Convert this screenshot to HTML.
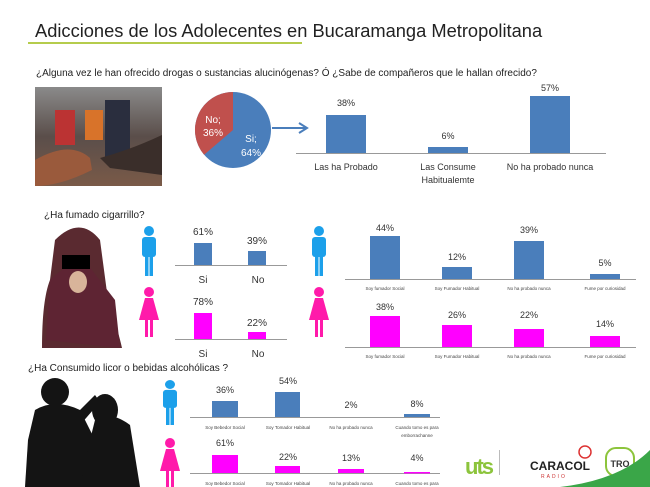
<!DOCTYPE html>
<html><head><meta charset="utf-8"><style>
html,body{margin:0;padding:0;background:#fff;}
svg{display:block;font-family:"Liberation Sans",sans-serif;}
</style></head><body>
<svg width="650" height="487" viewBox="0 0 650 487" xmlns="http://www.w3.org/2000/svg">
<defs>
<linearGradient id="ph1" x1="0" y1="0" x2="0" y2="1"><stop offset="0" stop-color="#8a8a8a"/><stop offset="0.5" stop-color="#5a4e4a"/><stop offset="1" stop-color="#7a5a48"/></linearGradient>
<g id="man"><circle cx="8" cy="5" r="5"/><rect x="1" y="11" width="14" height="20" rx="3"/><rect x="4" y="28" width="3.5" height="22"/><rect x="8.5" y="28" width="3.5" height="22"/></g>
<g id="woman"><circle cx="9" cy="5" r="5"/><path d="M5 11 H13 L19 33 H-1 Z"/><rect x="5" y="32" width="3" height="18"/><rect x="10" y="32" width="3" height="18"/></g>
</defs>
<rect width="650" height="487" fill="#fff"/>
<text x="35" y="37" font-size="18.3" fill="#222">Adicciones de los Adolecentes en Bucaramanga Metropolitana</text>
<rect x="28" y="42" width="274" height="2" fill="#b5cc4c"/>
<text x="36" y="76" font-size="10" fill="#222">¿Alguna vez le han ofrecido drogas o sustancias alucinógenas?   Ó   ¿Sabe de compañeros que  le hallan ofrecido?</text>
<!-- photo 1 -->
<rect x="35" y="87" width="127" height="99" fill="url(#ph1)"/>
<rect x="55" y="110" width="20" height="35" fill="#b33"/><rect x="85" y="110" width="18" height="30" fill="#d8732a"/><rect x="105" y="100" width="25" height="60" fill="#2a2e3e"/>
<path d="M35 160 Q70 140 90 158 L92 170 Q60 186 35 186Z" fill="#9a5a3c"/><path d="M162 135 L162 175 L110 168 L100 158 Q130 150 162 135Z" fill="#3a2e2a"/>
<!-- pie -->
<circle cx="233" cy="130" r="38" fill="#4a7ebb"/>
<path d="M233 130 L233 92 A38 38 0 0 0 204.1 154.7 Z" fill="#c0504d"/>
<g font-size="10" fill="#fff" text-anchor="middle"><text x="213" y="123">No;</text><text x="213" y="136">36%</text><text x="251" y="142">Si;</text><text x="251" y="156">64%</text></g>
<path d="M272 128 H305" stroke="#4a7ebb" stroke-width="2"/><path d="M299 123 L307 128 L299 133" fill="none" stroke="#4a7ebb" stroke-width="2"/>
<rect x="296" y="153" width="310" height="1" fill="#999"/>
<g fill="#4a7ebb"><rect x="326" y="115" width="40" height="38"/><rect x="428" y="147" width="40" height="6"/><rect x="530" y="96" width="40" height="57"/></g>
<g font-size="9" fill="#333" text-anchor="middle"><text x="346" y="106">38%</text><text x="448" y="139">6%</text><text x="550" y="91">57%</text>
<text x="346" y="170">Las ha Probado</text><text x="448" y="170">Las Consume</text><text x="448" y="183">Habitualemte</text><text x="550" y="170">No ha probado nunca</text></g>
<!-- section 2 -->
<text x="44" y="218" font-size="10" fill="#222">¿Ha fumado cigarrillo?</text>
<path d="M55 240 Q80 215 100 240 L108 300 Q118 330 122 348 L42 348 Q42 300 50 280Z" fill="#5a2a30"/><path d="M46 340 L50 280 Q70 260 88 265 L115 300 L120 348 Z" fill="#5e2433"/>
<rect x="62" y="255" width="28" height="14" fill="#000"/><ellipse cx="78" cy="282" rx="9" ry="11" fill="#d8b49a"/>
<g fill="#1ca0ea"><use href="#man" transform="translate(141,226)"/><use href="#man" transform="translate(311,226)"/><use href="#man" transform="translate(162,380) scale(1,0.9)"/></g>
<g fill="#ff1aaa"><use href="#woman" transform="translate(140,287)"/><use href="#woman" transform="translate(310,287)"/><use href="#woman" transform="translate(161,438)"/></g>
<rect x="175" y="265" width="112" height="1" fill="#999"/><rect x="175" y="339" width="112" height="1" fill="#999"/>
<g fill="#4a7ebb"><rect x="194" y="243" width="18" height="22"/><rect x="248" y="251" width="18" height="14"/></g>
<g fill="#ff00ff"><rect x="194" y="313" width="18" height="26"/><rect x="248" y="332" width="18" height="7"/></g>
<g font-size="10" fill="#333" text-anchor="middle"><text x="203" y="235">61%</text><text x="257" y="244">39%</text><text x="203" y="283">Si</text><text x="258" y="283">No</text>
<text x="203" y="305">78%</text><text x="257" y="326">22%</text><text x="203" y="357">Si</text><text x="258" y="357">No</text></g>
<rect x="345" y="279" width="291" height="1" fill="#999"/><rect x="345" y="347" width="291" height="1" fill="#999"/>
<g fill="#4a7ebb"><rect x="370" y="236" width="30" height="43"/><rect x="442" y="267" width="30" height="12"/><rect x="514" y="241" width="30" height="38"/><rect x="590" y="274" width="30" height="5"/></g>
<g fill="#ff00ff"><rect x="370" y="316" width="30" height="31"/><rect x="442" y="325" width="30" height="22"/><rect x="514" y="329" width="30" height="18"/><rect x="590" y="336" width="30" height="11"/></g>
<g font-size="9" fill="#333" text-anchor="middle"><text x="385" y="231">44%</text><text x="457" y="260">12%</text><text x="529" y="233">39%</text><text x="605" y="266">5%</text>
<text x="385" y="310">38%</text><text x="457" y="318">26%</text><text x="529" y="318">22%</text><text x="605" y="327">14%</text></g>
<g font-size="4.5" fill="#444" text-anchor="middle"><text x="385" y="290">Soy fumador Social</text><text x="457" y="290">Soy Fumador Habitual</text><text x="529" y="290">No ha probado nunca</text><text x="605" y="290">Fume por curiosidad</text>
<text x="385" y="358">Soy fumador Social</text><text x="457" y="358">Soy Fumador Habitual</text><text x="529" y="358">No ha probado nunca</text><text x="605" y="358">Fume por curiosidad</text></g>
<!-- section 3 -->
<text x="28" y="371" font-size="10" fill="#222">¿Ha Consumido licor  o bebidas alcohólicas ?</text>
<g fill="#141414"><circle cx="55" cy="392" r="14"/><path d="M35 410 Q55 398 80 410 L95 440 L90 487 L25 487 L28 440Z"/><path d="M80 420 L110 465 L100 470 L75 440Z"/>
<ellipse cx="105" cy="410" rx="13" ry="16"/><path d="M95 420 Q110 410 130 425 L140 487 L80 487 L90 440Z"/><path d="M70 420 L95 395 L100 402 L80 425Z"/></g>
<rect x="190" y="417" width="250" height="1" fill="#999"/><rect x="190" y="473" width="250" height="1" fill="#999"/>
<g fill="#4a7ebb"><rect x="212" y="401" width="26" height="16"/><rect x="275" y="392" width="25" height="25"/><rect x="404" y="414" width="26" height="3"/></g>
<g fill="#ff00ff"><rect x="212" y="455" width="26" height="18"/><rect x="275" y="466" width="25" height="7"/><rect x="338" y="469" width="26" height="4"/><rect x="404" y="472" width="26" height="1.5"/></g>
<g font-size="9" fill="#333" text-anchor="middle"><text x="225" y="393">36%</text><text x="288" y="384">54%</text><text x="351" y="408">2%</text><text x="417" y="407">8%</text>
<text x="225" y="446">61%</text><text x="288" y="460">22%</text><text x="351" y="461">13%</text><text x="417" y="461">4%</text></g>
<g font-size="4.5" fill="#444" text-anchor="middle"><text x="225" y="429">Soy Bebedor  Social</text><text x="288" y="429">Soy Tomador Habitual</text><text x="351" y="429">No ha probado nunca</text><text x="417" y="429">Cuando tomo es para</text><text x="417" y="437">emborrachanne</text>
<text x="225" y="485">Soy Bebedor  Social</text><text x="288" y="485">Soy Tomador Habitual</text><text x="351" y="485">No ha probado nunca</text><text x="417" y="485">Cuando tomo es para</text></g>
<!-- logos -->
<text x="465" y="474" font-size="22" font-weight="bold" fill="#8cc43c" letter-spacing="-2">uts</text>
<rect x="499" y="450" width="1" height="25" fill="#bbb"/>
<text x="530" y="470" font-size="12" fill="#222" font-weight="bold">CARACOL</text>
<text x="541" y="478" font-size="5" fill="#c33" letter-spacing="2">RADIO</text>
<circle cx="585" cy="452" r="6" fill="none" stroke="#d33" stroke-width="1.5"/>
<rect x="606" y="448" width="28" height="28" rx="10" fill="#fff" stroke="#8cc43c" stroke-width="2"/>
<text x="620" y="467" font-size="9" font-weight="bold" fill="#333" text-anchor="middle">TRO</text>
<path d="M560 487 Q620 480 650 450 L650 487Z" fill="#3aa648"/>
</svg>
</body></html>
